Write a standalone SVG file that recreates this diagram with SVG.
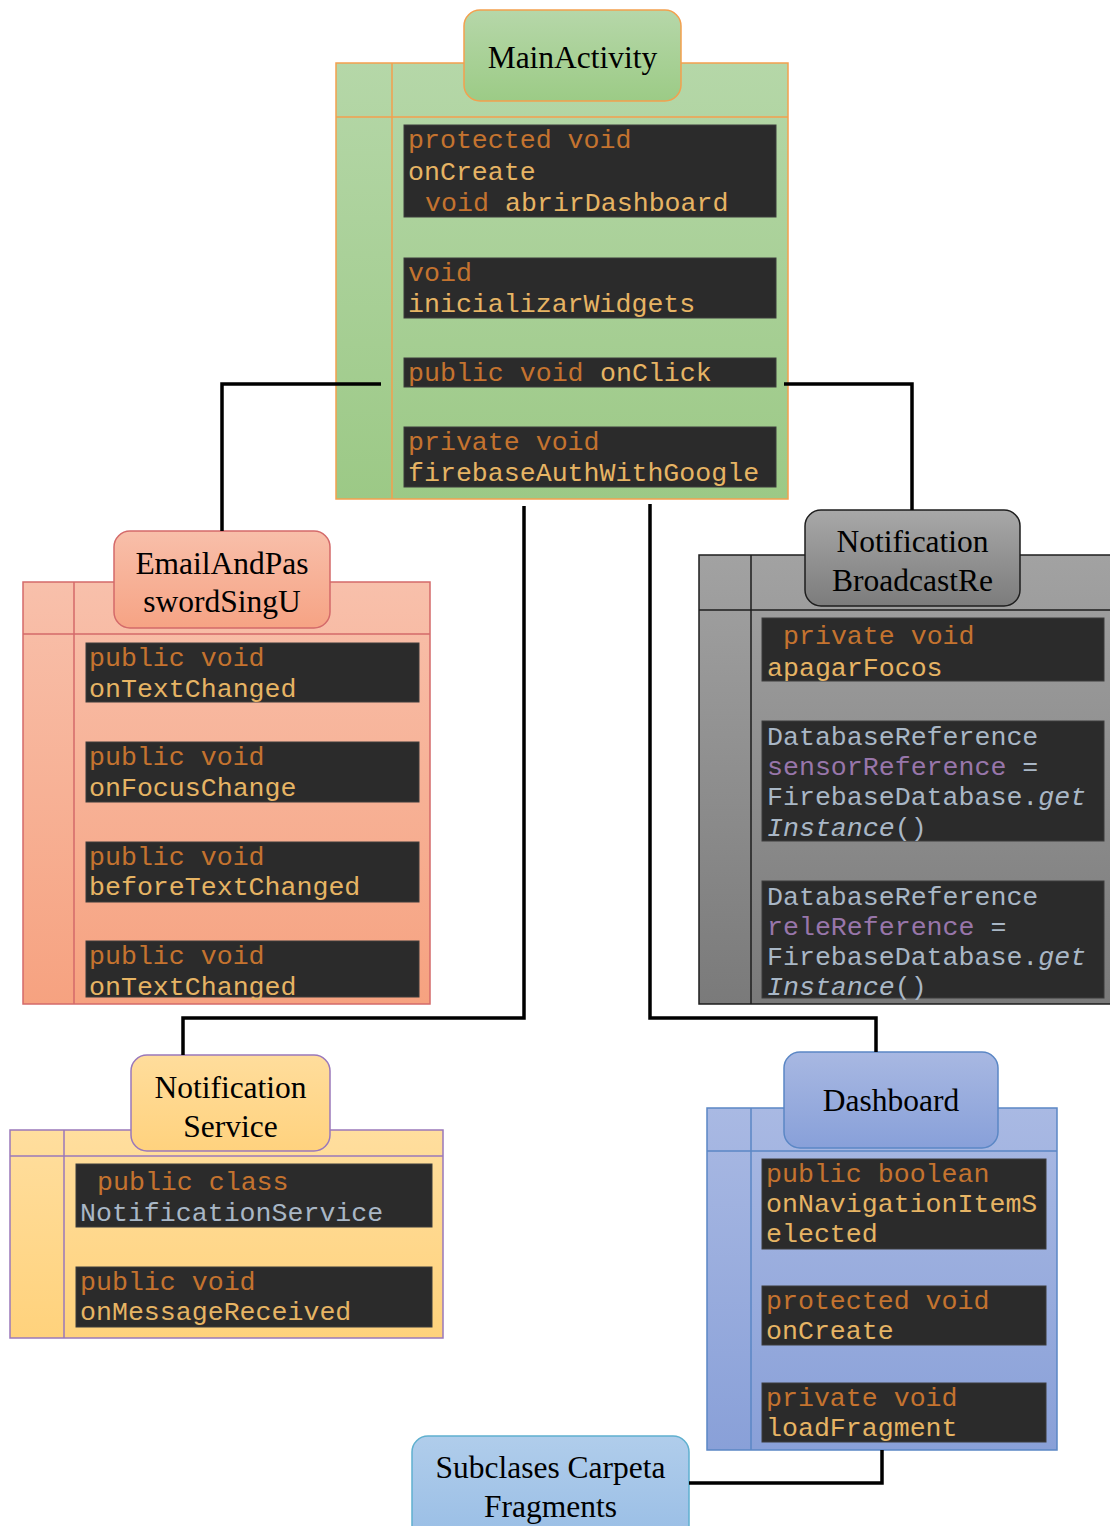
<svg xmlns="http://www.w3.org/2000/svg" width="1110" height="1526" viewBox="0 0 1110 1526">
  <defs>
    <linearGradient id="gGreen" x1="0" y1="0" x2="0" y2="1"><stop offset="0" stop-color="#b5d7a8"/><stop offset="1" stop-color="#9cc986"/></linearGradient>
    <linearGradient id="gGreenT" x1="0" y1="0" x2="0" y2="1"><stop offset="0" stop-color="#b6d7a9"/><stop offset="1" stop-color="#9ccb86"/></linearGradient>
    <linearGradient id="gSalmon" x1="0" y1="0" x2="0" y2="1"><stop offset="0" stop-color="#f8c0ab"/><stop offset="1" stop-color="#f6a280"/></linearGradient>
    <linearGradient id="gSalmonT" x1="0" y1="0" x2="0" y2="1"><stop offset="0" stop-color="#f8bfaa"/><stop offset="1" stop-color="#f6a384"/></linearGradient>
    <linearGradient id="gGray" x1="0" y1="0" x2="0" y2="1"><stop offset="0" stop-color="#a2a2a2"/><stop offset="1" stop-color="#7a7a7a"/></linearGradient>
    <linearGradient id="gGrayT" x1="0" y1="0" x2="0" y2="1"><stop offset="0" stop-color="#a8a8a8"/><stop offset="1" stop-color="#7c7c7c"/></linearGradient>
    <linearGradient id="gYellow" x1="0" y1="0" x2="0" y2="1"><stop offset="0" stop-color="#ffde9e"/><stop offset="1" stop-color="#ffd27c"/></linearGradient>
    <linearGradient id="gYellowT" x1="0" y1="0" x2="0" y2="1"><stop offset="0" stop-color="#ffdd9c"/><stop offset="1" stop-color="#ffd27e"/></linearGradient>
    <linearGradient id="gBlue" x1="0" y1="0" x2="0" y2="1"><stop offset="0" stop-color="#a9b9e3"/><stop offset="1" stop-color="#89a0d8"/></linearGradient>
    <linearGradient id="gBlueT" x1="0" y1="0" x2="0" y2="1"><stop offset="0" stop-color="#a8b8e2"/><stop offset="1" stop-color="#88a0d9"/></linearGradient>
    <linearGradient id="gSky" x1="0" y1="0" x2="0" y2="1"><stop offset="0" stop-color="#b0cdeb"/><stop offset="1" stop-color="#98bde5"/></linearGradient>
  </defs>
  <style>
    .title { font-family: "Liberation Serif", "Times New Roman", serif; font-size: 31.5px; fill: #000; text-anchor: middle; }
    .code { font-family: "Liberation Mono", "Courier New", monospace; font-size: 26.6px; }
    .blk { fill: #2b2b2b; stroke: #3c3c3c; stroke-width: 1; }
    .kw { fill: #c4732f; }
    .fn { fill: #e6b464; }
    .id { fill: #a9b7c6; }
    .fld { fill: #9876aa; }
    .it { font-style: italic; }
    .grid { fill: none; stroke-width: 1.5; }
    .wire { fill: none; stroke: #000; stroke-width: 3.5; }
  </style>

  <!-- MainActivity -->
  <g id="main-activity">
    <rect x="336" y="63" width="452" height="436" fill="url(#gGreen)" stroke="#f3a04e" stroke-width="1.5"/>
    <path class="grid" stroke="#f3a04e" d="M392,63 V499 M336,117 H788"/>
    <rect x="464" y="10" width="217" height="91" rx="16" fill="url(#gGreenT)" stroke="#f3a04e" stroke-width="1.5"/>
    <text class="title" x="572.5" y="68">MainActivity</text>
    <rect class="blk" x="404" y="125" width="372" height="92"/>
    <text class="code"><tspan class="kw" x="408" y="148">protected void</tspan><tspan class="fn" x="408" y="180">onCreate</tspan><tspan class="kw" x="425" y="211">void</tspan><tspan class="fn" x="505" y="211">abrirDashboard</tspan></text>
    <rect class="blk" x="404" y="258" width="372" height="60"/>
    <text class="code"><tspan class="kw" x="408" y="281">void</tspan><tspan class="fn" x="408" y="312">inicializarWidgets</tspan></text>
    <rect class="blk" x="404" y="358" width="372" height="29"/>
    <text class="code"><tspan class="kw" x="408" y="381">public void</tspan><tspan class="fn" x="600" y="381">onClick</tspan></text>
    <rect class="blk" x="404" y="427" width="372" height="60"/>
    <text class="code"><tspan class="kw" x="408" y="450">private void</tspan><tspan class="fn" x="408" y="481">firebaseAuthWithGoogle</tspan></text>
  </g>

  <!-- EmailAndPasswordSignUp -->
  <g id="email-password">
    <rect x="23" y="582" width="407" height="422" fill="url(#gSalmon)" stroke="#d46a6a" stroke-width="1.5"/>
    <path class="grid" stroke="#d46a6a" d="M74,582 V1004 M23,634 H430"/>
    <rect x="114" y="531" width="216" height="97" rx="16" fill="url(#gSalmonT)" stroke="#d46a6a" stroke-width="1.5"/>
    <text class="title"><tspan x="222" y="574">EmailAndPas</tspan><tspan x="222" y="612">swordSingU</tspan></text>
    <rect class="blk" x="86" y="643" width="333" height="59"/>
    <text class="code"><tspan class="kw" x="89" y="666">public void</tspan><tspan class="fn" x="89" y="697">onTextChanged</tspan></text>
    <rect class="blk" x="86" y="742" width="333" height="60"/>
    <text class="code"><tspan class="kw" x="89" y="765">public void</tspan><tspan class="fn" x="89" y="796">onFocusChange</tspan></text>
    <rect class="blk" x="86" y="842" width="333" height="60"/>
    <text class="code"><tspan class="kw" x="89" y="865">public void</tspan><tspan class="fn" x="89" y="895">beforeTextChanged</tspan></text>
    <rect class="blk" x="86" y="941" width="333" height="56"/>
    <text class="code"><tspan class="kw" x="89" y="964">public void</tspan><tspan class="fn" x="89" y="995">onTextChanged</tspan></text>
  </g>

  <!-- NotificationBroadcastReceiver -->
  <g id="notification-broadcast">
    <rect x="699" y="555" width="420" height="449" fill="url(#gGray)" stroke="#1e1e1e" stroke-width="1.5"/>
    <path class="grid" stroke="#1e1e1e" d="M751,555 V1004 M699,610 H1110"/>
    <rect x="805" y="510" width="215" height="96" rx="16" fill="url(#gGrayT)" stroke="#1e1e1e" stroke-width="1.5"/>
    <text class="title"><tspan x="912.5" y="552">Notification</tspan><tspan x="912.5" y="591">BroadcastRe</tspan></text>
    <rect class="blk" x="762" y="618" width="342" height="63"/>
    <text class="code"><tspan class="kw" x="783" y="644">private void</tspan><tspan class="fn" x="767" y="676">apagarFocos</tspan></text>
    <rect class="blk" x="762" y="721" width="342" height="120"/>
    <text class="code"><tspan class="id" x="767" y="745">DatabaseReference</tspan><tspan class="fld" x="767" y="775">sensorReference</tspan><tspan class="id"> =</tspan><tspan class="id" x="767" y="805">FirebaseDatabase.</tspan><tspan class="id it">get</tspan><tspan class="id it" x="767" y="836">Instance</tspan><tspan class="id">()</tspan></text>
    <rect class="blk" x="762" y="881" width="342" height="117"/>
    <text class="code"><tspan class="id" x="767" y="905">DatabaseReference</tspan><tspan class="fld" x="767" y="935">releReference</tspan><tspan class="id"> =</tspan><tspan class="id" x="767" y="965">FirebaseDatabase.</tspan><tspan class="id it">get</tspan><tspan class="id it" x="767" y="995">Instance</tspan><tspan class="id">()</tspan></text>
  </g>

  <!-- NotificationService -->
  <g id="notification-service">
    <rect x="10" y="1130" width="433" height="208" fill="url(#gYellow)" stroke="#9a78bb" stroke-width="1.5"/>
    <path class="grid" stroke="#9a78bb" d="M64,1130 V1338 M10,1156 H443"/>
    <rect x="131" y="1055" width="199" height="96" rx="16" fill="url(#gYellowT)" stroke="#9a78bb" stroke-width="1.5"/>
    <text class="title"><tspan x="230.5" y="1098">Notification</tspan><tspan x="230.5" y="1137">Service</tspan></text>
    <rect class="blk" x="76" y="1164" width="356" height="63"/>
    <text class="code"><tspan class="kw" x="97" y="1190">public class</tspan><tspan class="id" x="80" y="1221">NotificationService</tspan></text>
    <rect class="blk" x="76" y="1267" width="356" height="60"/>
    <text class="code"><tspan class="kw" x="80" y="1290">public void</tspan><tspan class="fn" x="80" y="1320">onMessageReceived</tspan></text>
  </g>

  <!-- Dashboard -->
  <g id="dashboard">
    <rect x="707" y="1108" width="350" height="342" fill="url(#gBlue)" stroke="#5b87c5" stroke-width="1.5"/>
    <path class="grid" stroke="#5b87c5" d="M751,1108 V1450 M707,1151 H1057"/>
    <rect x="784" y="1052" width="214" height="96" rx="16" fill="url(#gBlueT)" stroke="#5b87c5" stroke-width="1.5"/>
    <text class="title" x="891" y="1111">Dashboard</text>
    <rect class="blk" x="762" y="1159" width="284" height="90"/>
    <text class="code"><tspan class="kw" x="766" y="1182">public boolean</tspan><tspan class="fn" x="766" y="1212">onNavigationItemS</tspan><tspan class="fn" x="766" y="1242">elected</tspan></text>
    <rect class="blk" x="762" y="1286" width="284" height="59"/>
    <text class="code"><tspan class="kw" x="766" y="1309">protected void</tspan><tspan class="fn" x="766" y="1339">onCreate</tspan></text>
    <rect class="blk" x="762" y="1383" width="284" height="59"/>
    <text class="code"><tspan class="kw" x="766" y="1406">private void</tspan><tspan class="fn" x="766" y="1436">loadFragment</tspan></text>
  </g>

  <!-- Fragments subclasses -->
  <g id="fragments">
    <rect x="412" y="1436" width="277" height="110" rx="16" fill="url(#gSky)" stroke="#5fb0cf" stroke-width="1.5"/>
    <text class="title"><tspan x="550.5" y="1478">Subclases Carpeta</tspan><tspan x="550.5" y="1517">Fragments</tspan></text>
  </g>

  <!-- connectors, drawn over the class boxes -->
  <g id="connectors">
    <polyline class="wire" points="381,384 222,384 222,531"/>
    <polyline class="wire" points="784,384 912,384 912,510"/>
    <polyline class="wire" points="524,506 524,1018 183,1018 183,1055"/>
    <polyline class="wire" points="650,504 650,1018 876,1018 876,1052"/>
    <polyline class="wire" points="882,1450 882,1483 689,1483"/>
  </g>
</svg>
